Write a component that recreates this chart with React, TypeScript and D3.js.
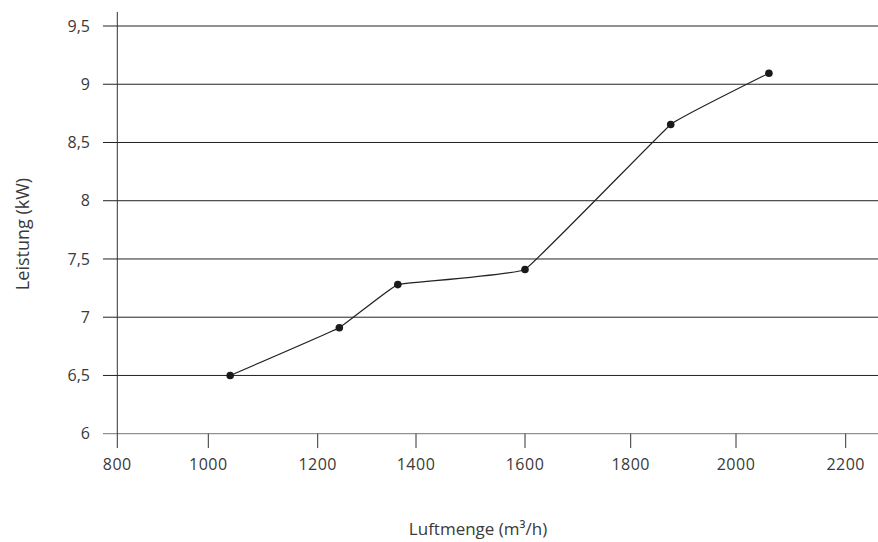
import React, { useEffect, useRef } from "react";
import * as d3 from "d3";

const airflow = [1040, 1244, 1363, 1600, 1876, 2060];
const power = [6.5, 6.91, 7.28, 7.41, 8.655, 9.095];
const xTicks = [800, 1000, 1200, 1400, 1600, 1800, 2000, 2200];
const yTicks = [6, 6.5, 7, 7.5, 8, 8.5, 9, 9.5];
const xTitle = "Luftmenge (m³/h)";
const yTitle = "Leistung (kW)";

const W = 878;
const H = 542;
// measured pixel positions of the x ticks (axis is slightly irregular)
const xTickPx = [117.3, 208.3, 317.7, 416, 525, 630.7, 736, 845.7];

export default function App() {
  const ref = useRef<SVGSVGElement>(null);
  useEffect(() => {
    const svg = d3.select(ref.current);
    svg.selectAll("*").remove();
    const x = d3.scaleLinear().domain(xTicks).range(xTickPx);
    const y = d3.scaleLinear().domain([6, 9.5]).range([433.7, 26]);
    const fmt = (v: number) => String(v).replace(".", ",");
    const font = "'Open Sans', sans-serif";
    const txt = "#3a3a3a";

    // gridlines
    svg.append("g").selectAll("line").data(yTicks).join("line")
      .attr("x1", 103).attr("x2", W)
      .attr("y1", (d) => y(d)).attr("y2", (d) => y(d))
      .attr("stroke", (d) => (d === 6 ? "#777" : "#222"))
      .attr("stroke-width", 1);

    // y axis line
    svg.append("line").attr("x1", x(800)).attr("x2", x(800))
      .attr("y1", 12).attr("y2", 448).attr("stroke", "#333").attr("stroke-width", 1);

    // x ticks
    svg.append("g").selectAll("line").data(xTicks.slice(1)).join("line")
      .attr("x1", (d) => x(d)).attr("x2", (d) => x(d))
      .attr("y1", y(6)).attr("y2", 448).attr("stroke", "#333").attr("stroke-width", 1);

    // y tick labels
    svg.append("g").selectAll("text").data(yTicks).join("text")
      .attr("x", 90).attr("y", (d) => y(d)).attr("dy", "0.36em")
      .attr("text-anchor", "end").attr("font-family", font).attr("font-size", 16)
      .attr("fill", txt).text((d) => fmt(d));

    // x tick labels
    svg.append("g").selectAll("text").data(xTicks).join("text")
      .attr("x", (d) => x(d)).attr("y", 470)
      .attr("text-anchor", "middle").attr("font-family", font).attr("font-size", 16)
      .attr("letter-spacing", 0.5)
      .attr("fill", txt).text((d) => String(d));

    // titles
    svg.append("text").attr("x", 478).attr("y", 535).attr("text-anchor", "middle")
      .attr("font-family", font).attr("font-size", 17).attr("fill", txt).text(xTitle);
    svg.append("text").attr("transform", "translate(29,234) rotate(-90)")
      .attr("text-anchor", "middle").attr("font-family", font).attr("font-size", 18)
      .attr("fill", txt).text(yTitle);

    const pts: [number, number][] = airflow.map((a, i) => [a, power[i]]);
    const line = d3.line<[number, number]>()
      .x((d) => x(d[0])).y((d) => y(d[1]))
      .curve(d3.curveCardinal.tension(0.8));
    svg.append("path").attr("d", line(pts)).attr("fill", "none")
      .attr("stroke", "#222").attr("stroke-width", 1.2);
    svg.append("g").selectAll("circle").data(pts).join("circle")
      .attr("cx", (d) => x(d[0])).attr("cy", (d) => y(d[1])).attr("r", 3.8)
      .attr("fill", "#1a1a1a");
  }, []);
  return (
    <svg ref={ref} width={W} height={H}
      style={{ position: "absolute", left: 0, top: 0, background: "#fff" }} />
  );
}
